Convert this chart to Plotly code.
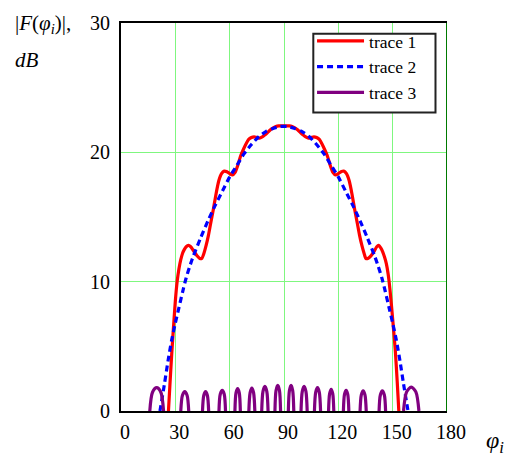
import plotly.graph_objects as go

# ---- data ----
x_ticks = [0, 30, 60, 90, 120, 150, 180]
y_ticks = [0, 10, 20, 30]

trace1_x = [26.2, 27.0, 28.0, 29.0, 30.0, 31.0, 32.0, 33.0, 34.0, 35.0, 36.0, 37.2,
            38.5, 40.0, 42.0, 43.5, 44.6, 45.8, 47.0, 48.3, 49.5, 51.0, 52.5, 54.0,
            55.5, 57.0, 58.5, 60.0, 61.5, 63.0, 64.5, 66.0, 67.5, 69.0, 70.5, 72.0,
            73.5, 75.0, 76.5, 78.0, 79.5, 81.0, 82.5, 84.0, 85.5, 87.0, 88.5, 90.0,
            91.5, 93.0, 94.5, 96.0, 97.5, 99.0, 100.5, 102.0, 103.5, 105.0, 106.5,
            108.0, 109.5, 111.0, 112.5, 114.0, 115.5, 117.0, 118.5, 120.0, 121.5,
            123.0, 124.5, 126.0, 127.5, 129.0, 130.5, 131.7, 133.0, 134.2, 135.2,
            136.3, 138.0, 140.0, 141.2, 142.3, 143.5, 144.5, 145.5, 146.5, 147.5,
            148.5, 149.5, 150.5, 151.5, 152.5, 153.4]
trace1_y = [0.0, 2.0, 4.4, 6.5, 8.5, 10.0, 11.0, 11.7, 12.2, 12.5, 12.7, 12.8,
            12.7, 12.4, 12.0, 11.8, 11.8, 12.2, 12.8, 13.6, 14.5, 15.6, 16.8, 17.8,
            18.35, 18.55, 18.5, 18.35, 18.25, 18.45, 19.0, 19.7, 20.2, 20.65, 21.0, 21.15,
            21.2, 21.15, 21.1, 21.2, 21.35, 21.55, 21.75, 21.9, 22.0, 22.05, 22.05, 22.05,
            22.05, 22.05, 22.0, 21.9, 21.75, 21.55, 21.35, 21.2, 21.1, 21.15, 21.2,
            21.15, 21.0, 20.65, 20.2, 19.7, 19.0, 18.45, 18.25, 18.35, 18.5,
            18.55, 18.35, 17.8, 16.8, 15.6, 14.5, 13.6, 12.8, 12.2, 11.8,
            11.8, 12.0, 12.4, 12.7, 12.8, 12.6, 12.3, 11.9, 11.4, 10.6,
            9.4, 7.9, 6.3, 4.6, 2.3, 0.0]

trace2_x = [21.5, 22, 24, 26, 28, 30, 32, 34, 36, 38, 40, 44, 48, 52, 56, 60, 64, 68,
            72, 76, 80, 84, 88, 90, 92, 96, 100, 104, 108, 112, 116, 120, 124, 128,
            132, 136, 140, 142, 144, 146, 148, 150, 152, 154, 156, 158, 158.5]
trace2_y = [0.0, 0.4, 2.1, 3.9, 5.5, 6.8, 8.0, 9.2, 10.3, 11.2, 12.0, 13.4, 14.7, 15.9,
            17.0, 18.1, 19.0, 19.9, 20.6, 21.2, 21.6, 21.85, 22.0, 22.0, 22.0, 21.85,
            21.6, 21.2, 20.6, 19.9, 19.0, 18.1, 17.0, 15.9, 14.7, 13.4, 12.0, 11.2,
            10.3, 9.2, 8.0, 6.8, 5.5, 3.9, 2.1, 0.4, 0.0]

# trace 3: separate side lobes (None = curve below 0 dB, outside the plot)
trace3_x = [15.9, 17.4, 19.7, 22.0, 23.5, None,
            33.0, 33.9, 35.2, 36.5, 37.4, None,
            45.0, 45.7, 46.7, 47.7, 48.4, None,
            54.1, 54.8, 55.9, 57.0, 57.7, None,
            62.9, 63.5, 64.4, 65.3, 65.9, None,
            70.6, 71.3, 72.25, 73.2, 73.9, None,
            77.7, 78.4, 79.45, 80.5, 81.2, None,
            85.0, 85.6, 86.55, 87.5, 88.1, None,
            92.4, 93.0, 93.9, 94.8, 95.4, None,
            99.4, 100.1, 101.1, 102.1, 102.8, None,
            106.8, 107.5, 108.5, 109.5, 110.2, None,
            114.6, 115.2, 116.05, 116.9, 117.5, None,
            122.8, 123.4, 124.3, 125.2, 125.8, None,
            132.0, 132.7, 133.7, 134.7, 135.4, None,
            142.5, 143.2, 144.3, 145.4, 146.1, None,
            156.0, 157.7, 160.25, 162.8, 164.5]
trace3_y = [0, 1.45, 1.8, 1.45, 0, None,
            0, 1.2, 1.5, 1.2, 0, None,
            0, 1.2, 1.5, 1.2, 0, None,
            0, 1.3, 1.6, 1.3, 0, None,
            0, 1.4, 1.73, 1.4, 0, None,
            0, 1.42, 1.78, 1.42, 0, None,
            0, 1.52, 1.9, 1.52, 0, None,
            0, 1.58, 1.98, 1.58, 0, None,
            0, 1.58, 1.98, 1.58, 0, None,
            0, 1.52, 1.9, 1.52, 0, None,
            0, 1.44, 1.8, 1.44, 0, None,
            0, 1.34, 1.68, 1.34, 0, None,
            0, 1.28, 1.6, 1.28, 0, None,
            0, 1.24, 1.55, 1.24, 0, None,
            0, 1.24, 1.55, 1.24, 0, None,
            0, 1.48, 1.85, 1.48, 0]

FONT = "Liberation Serif, Times New Roman, serif"

fig = go.Figure()
fig.add_trace(go.Scatter(x=trace1_x, y=trace1_y, mode="lines", name="trace 1",
                         line=dict(color="#ff0000", width=3.2, shape="spline", smoothing=0.6)))
fig.add_trace(go.Scatter(x=trace2_x, y=trace2_y, mode="lines", name="trace 2",
                         line=dict(color="#0000ff", width=3.2, dash="6px,4px",
                                   shape="spline", smoothing=0.6)))
fig.add_trace(go.Scatter(x=trace3_x, y=trace3_y, mode="lines", name="trace 3",
                         connectgaps=False,
                         line=dict(color="#800080", width=3.2, shape="spline", smoothing=0.8)))

fig.update_layout(
    width=507, height=456, autosize=False,
    margin=dict(l=121, r=60, t=16, b=45, pad=0),
    paper_bgcolor="white", plot_bgcolor="white",
    font=dict(family=FONT, size=20, color="black"),
    showlegend=True,
    legend=dict(x=0.586, y=1.0, xanchor="left", yanchor="top",
                bgcolor="rgba(0,0,0,0)", borderwidth=0,
                font=dict(family=FONT, size=17.5, color="black"),
                itemwidth=47, tracegroupgap=0),
    xaxis=dict(range=[0, 180], tickmode="array", tickvals=x_ticks,
               ticktext=[str(v) for v in x_ticks],
               showgrid=True, gridcolor="#7ff77f", gridwidth=1,
               zeroline=False, showline=True, linecolor="black", linewidth=2,
               mirror=True, ticks="", ticklabelshift=4, ticklabelstandoff=2,
               tickfont=dict(family=FONT, size=20, color="black")),
    yaxis=dict(range=[0, 30], tickmode="array", tickvals=y_ticks,
               ticktext=[str(v) for v in y_ticks],
               showgrid=True, gridcolor="#7ff77f", gridwidth=1,
               zeroline=False, showline=True, linecolor="black", linewidth=2,
               mirror=False, ticks="", ticklabelstandoff=5,
               tickfont=dict(family=FONT, size=20, color="black")),
)

# legend frame (white box with dark border, behind the legend entries)
fig.add_shape(type="rect", xref="paper", yref="paper",
              x0=0.5899, x1=0.9647, y0=0.7696, y1=0.9722,
              fillcolor="white", line=dict(color="#222222", width=2), layer="above")

# dark green right border at x = 180
fig.add_shape(type="line", xref="x", yref="y", x0=180, x1=180, y0=0, y1=30,
              line=dict(color="#007a00", width=2), layer="above")

fig.add_annotation(xref="paper", yref="paper", x=-0.33, y=0.998,
                   xanchor="left", yanchor="middle", showarrow=False,
                   text="|<i>F</i>(<i>φ</i><sub><i>i</i></sub>)|,",
                   font=dict(family=FONT, size=21, color="black"))
fig.add_annotation(xref="paper", yref="paper", x=-0.33, y=0.905,
                   xanchor="left", yanchor="middle", showarrow=False,
                   text="<i>dB</i>",
                   font=dict(family=FONT, size=21, color="black"))
fig.add_annotation(xref="paper", yref="paper", x=1.112, y=-0.08,
                   xanchor="left", yanchor="middle", showarrow=False,
                   text="<i>φ</i><sub><i>i</i></sub>",
                   font=dict(family=FONT, size=24, color="black"))

fig.write_html("out.html")
